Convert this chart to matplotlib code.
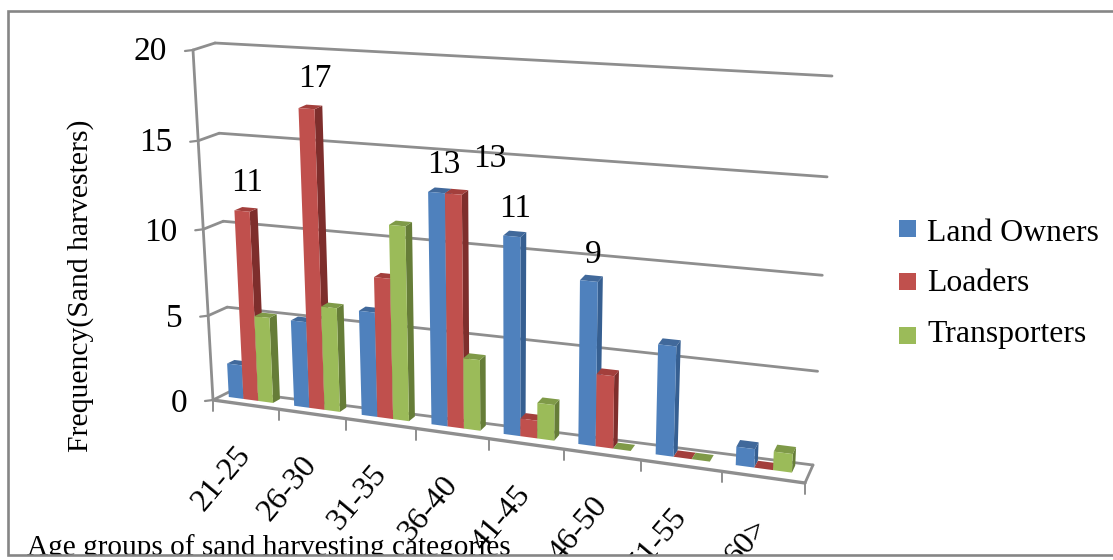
import matplotlib
matplotlib.use("Agg")
import matplotlib.pyplot as plt
from matplotlib.patches import Polygon, Rectangle

# Frequencies per age group
categories = ["21-25", "26-30", "31-35", "36-40", "41-45", "46-50", "51-55", "60>"]
land_owners = [2, 5, 6, 13, 11, 9, 6, 1]
loaders = [11, 17, 8, 13, 1, 4, 0, 0]
transporters = [5, 6, 11, 4, 2, 0, 0, 1]
y_ticks = [0, 5, 10, 15, 20]
series_names = ["Land Owners", "Loaders", "Transporters"]
face_colors = ["#4F81BD", "#C0504D", "#9BBB59"]
side_colors = ["#365F91", "#7E2E2C", "#667D38"]
top_colors = ["#41699B", "#A33F3C", "#7F9A48"]

W, H = 1113, 560
GRID = "#8E8E8E"
FONT = "Liberation Serif"

fig = plt.figure(figsize=(W / 100, H / 100), dpi=100)
ax = fig.add_axes([0, 0, 1, 1])
ax.set_xlim(0, W)
ax.set_ylim(H, 0)
ax.axis("off")

# Corners of the 3D plot box in canvas units: (front/back, bottom/top) at each end of the category axis
BOX = {
    (0, 0, 0): (213, 400), (0, 1, 0): (193, 50),
    (0, 0, 1): (231, 391), (0, 1, 1): (215, 43),
    (1, 0, 0): (805, 483), (1, 1, 0): (822, 92),
    (1, 0, 1): (813, 465), (1, 1, 1): (832, 76),
}
N = len(categories)
VMAX = y_ticks[-1]


def warp(u, k):
    """Perspective foreshortening along one box edge."""
    return u / (u + k * (1 - u))


def project(t, v, d):
    """Map category position t, value v and depth d (0 front, 1 back) to the canvas."""
    a = warp(t / N, 1.146)
    b = warp(v / VMAX, 1.05)
    x = y = 0.0
    for i, wa in ((0, 1 - a), (1, a)):
        for j, wb in ((0, 1 - b), (1, b)):
            for k, wd in ((0, 1 - d), (1, d)):
                px, py = BOX[(i, j, k)]
                x += wa * wb * wd * px
                y += wa * wb * wd * py
    return x, y


def line(p, q, lw=2.0, z=1):
    ax.plot([p[0], q[0]], [p[1], q[1]], color=GRID, lw=lw, solid_capstyle="round", zorder=z)


# Walls and floor
for v in y_ticks:
    mid = project(0, v, 1)
    line(project(0, v, 0), mid)
    line(mid, project(N, v, 1))
    tx, ty = project(0, v, 0)
    line((tx - 8, ty + 1), (tx, ty), lw=1.6)
    ax.text(tx - 26, ty + 2 + (20 - v) * 0.1, str(v), ha="right", va="center", family=FONT, fontsize=24,
            color="black", zorder=5)

line(project(0, 0, 0), project(0, VMAX, 0))
line(project(0, 0, 0), project(N, 0, 0), lw=2.4)
line(project(N, 0, 0), project(N, 0, 1))
for i in range(N + 1):
    tx, ty = project(i, 0, 0)
    line((tx, ty), (tx, ty + 11), lw=1.4)

# Bars, left to right so each front face covers its neighbour's side
BAR_START, BAR_WIDTH = 0.12, 0.227
D0, D1 = 0.45, 0.85
series = [land_owners, loaders, transporters]
for i in range(N):
    for s, values in enumerate(series):
        v = values[i]
        t0 = i + BAR_START + s * BAR_WIDTH
        t1 = t0 + BAR_WIDTH
        if v > 0:
            ax.add_patch(Polygon([project(t1, 0, D0), project(t1, 0, D1), project(t1, v, D1), project(t1, v, D0)],
                                 closed=True, fc=side_colors[s], ec="none", zorder=2))
        ax.add_patch(Polygon([project(t0, v, D0), project(t1, v, D0), project(t1, v, D1), project(t0, v, D1)],
                             closed=True, fc=top_colors[s], ec="none", zorder=2))
        if v > 0:
            ax.add_patch(Polygon([project(t0, 0, D0), project(t1, 0, D0), project(t1, v, D0), project(t0, v, D0)],
                                 closed=True, fc=face_colors[s], ec="none", zorder=2))

# Value labels on selected bars: group, series, horizontal and vertical nudge
value_labels = [(0, 1, 5, -28), (1, 1, 8, -30), (3, 0, 7, -28), (3, 1, 36, -35), (4, 0, 3, -28), (5, 0, 4, -26)]
for g, s, dx, dy in value_labels:
    t_mid = g + BAR_START + (s + 0.5) * BAR_WIDTH
    x, y = project(t_mid, series[s][g], D0)
    ax.text(x + dx, y + dy, str(series[s][g]), ha="center", va="center", family=FONT, fontsize=24, color="black", zorder=5)

# Everything below the frame's bottom rule is cut off
clip = Rectangle((0, 0), W, 555, transform=ax.transData)

# Slanted category labels, ending just under their category
for i, name in enumerate(categories):
    tx, ty = project(i + 0.5, 0, 0)
    txt = ax.text(tx + 0, ty + 46, name, rotation=50, ha="right", va="center",
                  rotation_mode="anchor", family=FONT, fontsize=23, color="black", zorder=5, clip_on=True)
    txt.set_clip_path(clip)

# Axis titles
ax.text(81, 286, "Frequency(Sand harvesters)", rotation=90, ha="center", va="center", family=FONT, fontsize=21.3,
        color="black", zorder=5)
title = ax.text(27, 555, "Age groups of sand harvesting categories", ha="left", va="baseline", family=FONT,
                fontsize=21.1, color="black", zorder=5, clip_on=True)
title.set_clip_path(clip)

# Legend
for name, color, yc, base in zip(series_names, face_colors, (228.5, 281.5, 335.5), (241, 291, 342)):
    ax.add_patch(Rectangle((899, yc - 8.5), 17, 17, fc=color, ec="none", zorder=3))
    ax.text(927, base, name, ha="left", va="baseline", family=FONT, fontsize=22.9, color="black", zorder=5)

# Outer frame, open on the right
ax.plot([W, 8, 8, W], [11, 11, 555, 555], color="#868686", lw=1.9, solid_joinstyle="miter", zorder=6)

fig.savefig("out.png", dpi=100, facecolor="white")
